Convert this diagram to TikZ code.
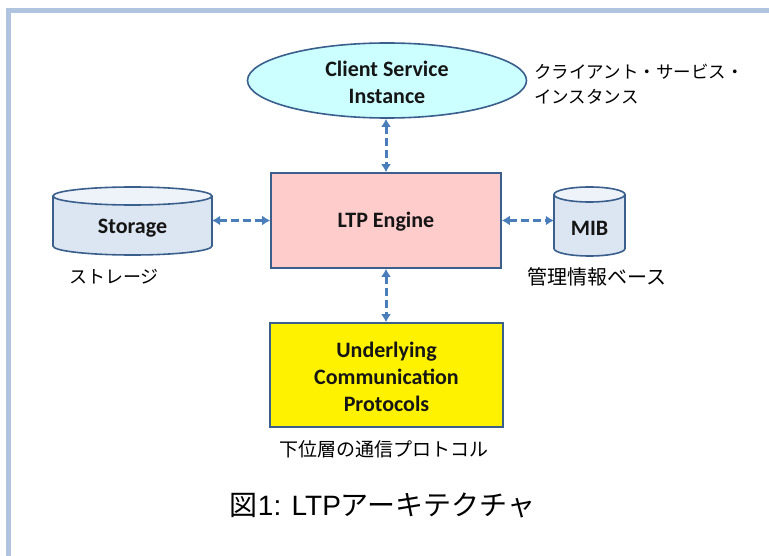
\documentclass[tikz,border=0pt]{standalone}
\usepackage{fontspec}
\setmainfont{Carlito}
\newfontfamily\jp{Noto Sans CJK JP}
\newfontfamily\arialf{Liberation Sans}
\usetikzlibrary{arrows.meta,shapes.geometric}
\definecolor{frameblue}{HTML}{B0C3DF}
\definecolor{edgeblue}{HTML}{3A5F8C}
\definecolor{linkblue}{HTML}{4A7EBB}
\definecolor{cyanfill}{HTML}{CCFFFF}
\definecolor{pinkfill}{HTML}{FFCCCC}
\definecolor{cylfill}{HTML}{DCE6F2}
\definecolor{capfill}{HTML}{EEF3FA}
\definecolor{txtdark}{HTML}{151515}
\tikzset{
  boxtext/.style={font=\fontsize{22}{27}\selectfont\bfseries, text=txtdark, align=center, inner sep=0pt},
  blockbox/.style={draw=edgeblue, line width=1.6pt, inner sep=0pt},
  cylarea/.style={inner sep=0pt},
  jplabel/.style={font=\jp\fontsize{18}{25}\selectfont, text=black, inner sep=0pt},
  link/.style={draw=linkblue, line width=3pt, dash pattern=on 8pt off 4pt,
    {Latex[length=8pt,width=10pt]}-{Latex[length=8pt,width=10pt]}},
  cylline/.style={draw=edgeblue, line width=1.6pt}
}
\begin{document}
\begin{tikzpicture}[x=1pt,y=-1pt]
\fill[white] (0,0) rectangle (769,556);
\useasboundingbox (0,0) rectangle (769,556);
% frame
\draw[frameblue, line width=5pt, line join=miter] (8.5,560) -- (8.5,10.5) -- (772,10.5);

% client service instance
\node[ellipse, draw=edgeblue, line width=1.6pt, fill=cyanfill, minimum width=279pt, minimum height=75pt, inner sep=0pt] (csi) at (387,80.5) {};
\node[boxtext] (csiT) at (387,82.5) {Client Service\\Instance};
\node[jplabel, anchor=west, align=left, font=\jp\fontsize{17.5}{25}\selectfont] (csiJ) at (534,84.5) {クライアント・サービス・\\インスタンス};

% LTP engine
\node[blockbox, fill=pinkfill, minimum width=230pt, minimum height=95pt] (ltp) at (386,220.5) {};
\node[boxtext] (ltpT) at (386,222) {LTP Engine};

% storage cylinder
\path[fill=cylfill, cylline] (53,196) -- (53,246) arc[start angle=180,end angle=360,x radius=79.5pt,y radius=9pt] -- (212,196);
\draw[fill=capfill, cylline] (132.5,196) ellipse [x radius=79.5pt, y radius=9pt];
\node[cylarea, minimum width=159pt, minimum height=68pt] (stor) at (132.5,221) {};
\node[boxtext] (storT) at (132.5,228) {Storage};
\node[jplabel] (storJ) at (114,277) {ストレージ};

% MIB cylinder
\path[fill=cylfill, cylline] (554,194.5) -- (554,248.5) arc[start angle=180,end angle=360,x radius=35.5pt,y radius=7.5pt] -- (625,194.5);
\draw[fill=capfill, cylline] (589.5,194.5) ellipse [x radius=35.5pt, y radius=7.5pt];
\node[cylarea, minimum width=71pt, minimum height=69pt] (mib) at (589.5,221.5) {};
\node[boxtext] (mibT) at (589.5,228) {MIB};
\node[jplabel, font=\jp\fontsize{20}{25}\selectfont] (mibJ) at (597,277) {管理情報ベース};

% underlying protocols
\node[blockbox, fill=yellow, minimum width=233pt, minimum height=104pt] (ucp) at (386.5,375) {};
\node[boxtext] (ucpT) at (386.5,377) {Underlying\\Communication\\Protocols};
\node[jplabel, font=\jp\fontsize{19}{25}\selectfont] (ucpJ) at (384,449) {下位層の通信プロトコル};

% connectors
\draw[link] (ltp.north |- csi.south) -- (ltp.north);
\draw[link] (stor.east |- ltp.west) -- (ltp.west);
\draw[link] (ltp.east) -- (ltp.east -| mib.west);
\draw[link] (ltp.south) -- (ltp.south |- ucp.north);

% caption
\node[inner sep=0pt, font=\fontsize{28}{32}\selectfont] (cap) at (382.5,505) {{\jp 図}{\arialf 1: LTP}{\jp アーキテクチャ}};
\end{tikzpicture}
\end{document}
